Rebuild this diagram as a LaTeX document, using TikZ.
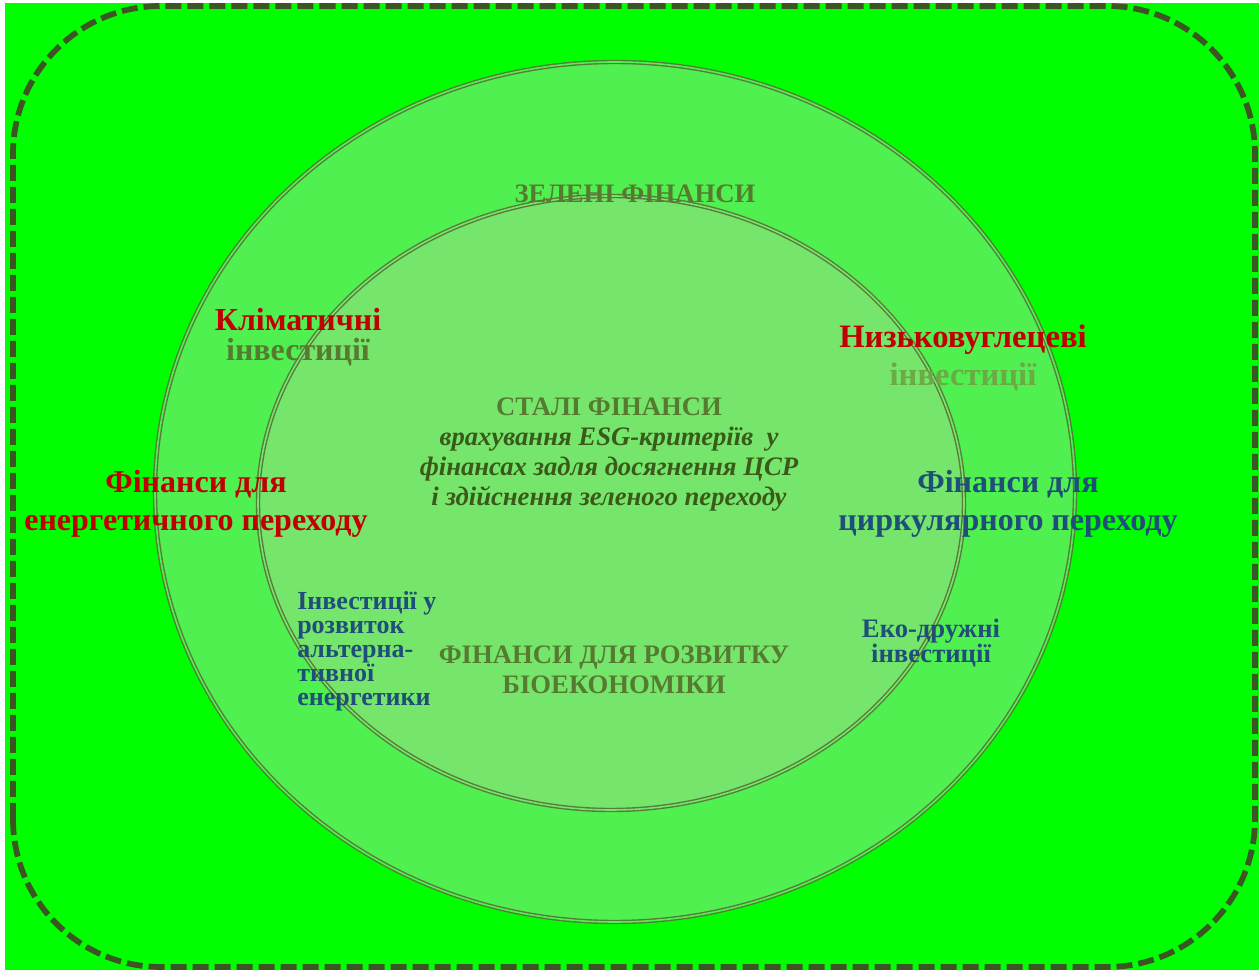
\documentclass[tikz,border=0pt]{standalone}
\usepackage{fontspec}
\setmainfont{Liberation Serif}
\definecolor{bggreen}{HTML}{00FF00}
\definecolor{ringgreen}{HTML}{50F050}
\definecolor{coregreen}{HTML}{75E56B}
\definecolor{edgecol}{HTML}{587A3A}
\definecolor{dashcol}{HTML}{3B5523}
\definecolor{redtxt}{HTML}{C00000}
\definecolor{bluetxt}{HTML}{1F4E79}
\definecolor{olivetxt}{HTML}{567A30}
\definecolor{darktxt}{HTML}{3A5A1A}
\definecolor{palolive}{HTML}{6CAA45}
\begin{document}
\begin{tikzpicture}[x=0.75pt, y=0.75pt,
    ring/.style={draw=edgecol, line width=1.05pt, double=#1, double distance=1.2pt, fill=#1},
    big/.style={font=\bfseries\fontsize{24}{28}\selectfont, align=center, inner sep=0pt},
    head/.style={font=\bfseries\fontsize{20}{22.5}\selectfont, align=center, inner sep=0pt, text=olivetxt},
    small/.style={font=\bfseries\fontsize{19.5}{18}\selectfont, text=bluetxt, inner sep=0pt}]
    \useasboundingbox (0, 0) rectangle (1259, 970);
    \fill [bggreen] (5, 0) rectangle (1259, 967);
    \draw [dashcol, line width=4.3pt, dash pattern=on 12pt off 4.5pt, rounded corners=111pt]
        (13, 3) rectangle (1255, 964);
    % rings
    \draw [ring=ringgreen] (615, 478) ellipse [x radius=460, y radius=430];
    \draw [ring=coregreen] (611, 467) ellipse [x radius=353, y radius=307];
    % labels
    \node [head] (green) at (635, 776) {ЗЕЛЕНІ ФІНАНСИ};
    \node [big, text=redtxt, font=\bfseries\fontsize{24}{22.5}\selectfont] (climate) at (298, 633)
        {Кліматичні\\{\color{olivetxt}інвестиції}};
    \node [big, text=redtxt, font=\bfseries\fontsize{24.5}{28}\selectfont] (lowcarb) at (963, 612)
        {Низьковуглецеві\\{\color{palolive}інвестиції}};
    \node [head, font=\fontsize{20}{22.5}\selectfont] (sustain) at (609, 515)
        {\textbf{СТАЛІ ФІНАНСИ}\\
        {\color{darktxt}\bfseries\itshape врахування ESG-критеріїв\ \ у}\\
        {\color{darktxt}\bfseries\itshape фінансах задля досягнення ЦСР}\\
        {\color{darktxt}\bfseries\itshape і здійснення зеленого переходу}};
    \node [big, text=redtxt] (energy) at (196, 466) {Фінанси для\\енергетичного переходу};
    \node [big, text=bluetxt] (circular) at (1008, 466) {Фінанси для\\циркулярного переходу};
    \node [small, align=left, anchor=north west] (altenergy) at (297, 379)
        {Інвестиції у\\розвиток\\альтерна-\\тивної\\енергетики};
    \node [head] (bioecon) at (614, 300) {ФІНАНСИ ДЛЯ РОЗВИТКУ\\БІОЕКОНОМІКИ};
    \node [small, align=center, font=\bfseries\fontsize{20}{18.75}\selectfont] (ecofriend) at (931, 327)
        {Еко-дружні\\інвестиції};
\end{tikzpicture}
\end{document}
